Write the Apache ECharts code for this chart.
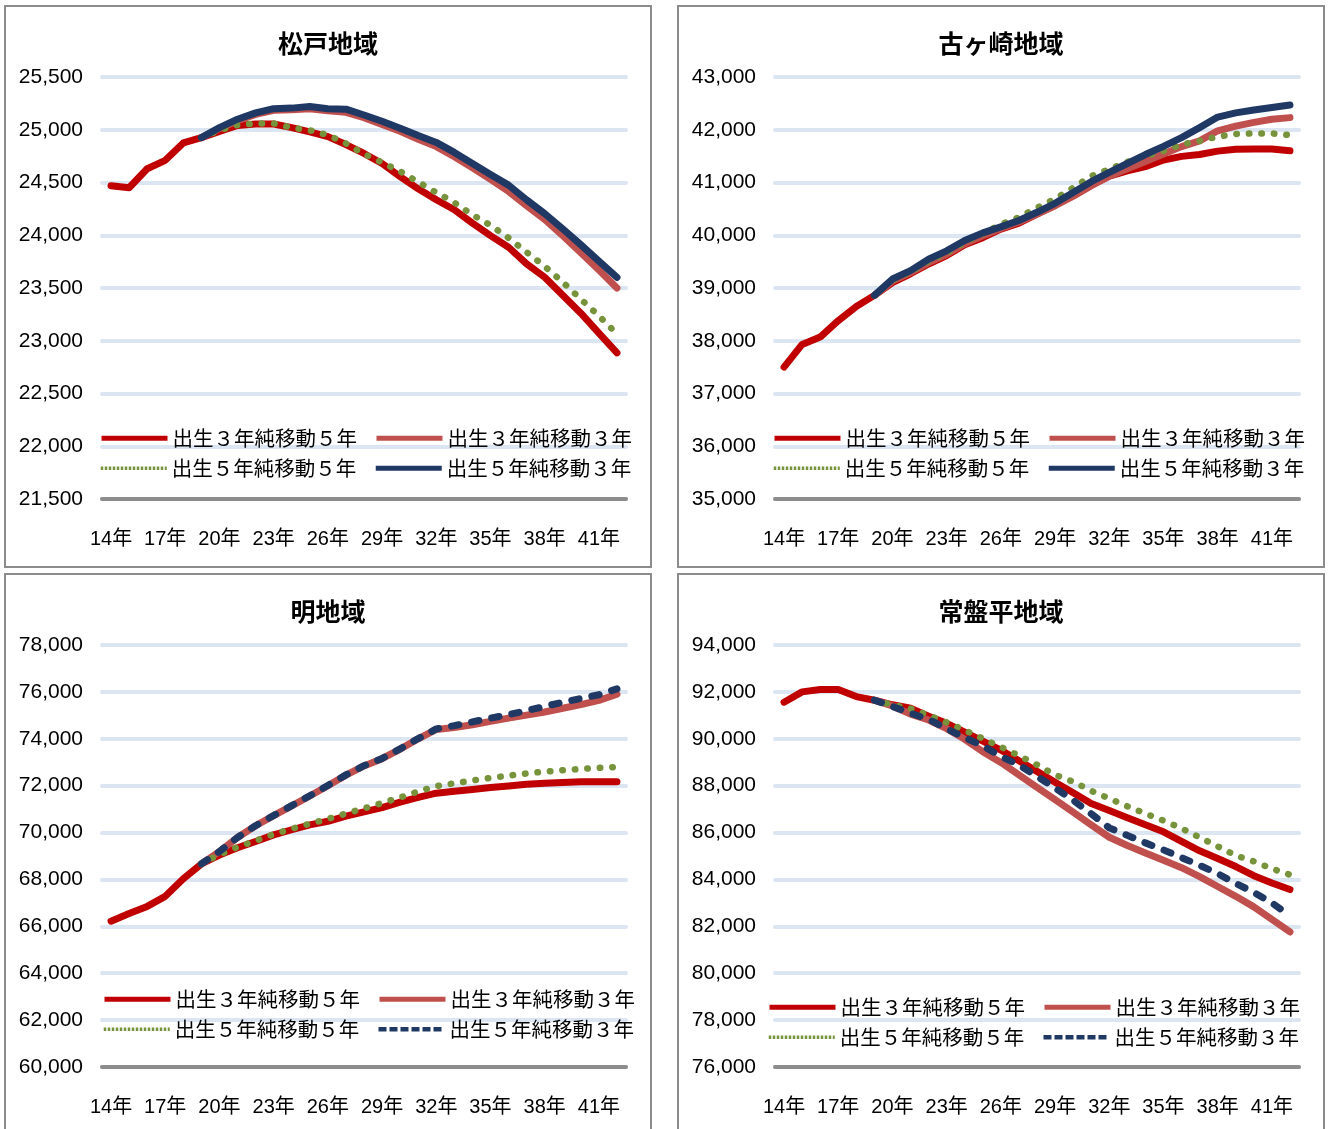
<!DOCTYPE html>
<html lang="ja">
<head>
<meta charset="utf-8">
<title>地域別将来人口推計</title>
<script src="https://cdn.jsdelivr.net/npm/echarts@6/dist/echarts.min.js"></script>
<style>
  html, body { margin: 0; padding: 0; background: #fff; overflow: hidden; }
  .panel {
    position: absolute;
    width: 648px;
    height: 563px;
    border: 2px solid #8c8c8c;
    box-sizing: border-box;
    background: #fff;
  }
  #p1 { left: 4px; top: 5px; }
  #p2 { left: 677px; top: 5px; }
  #p3 { left: 4px; top: 573px; }
  #p4 { left: 677px; top: 573px; }
</style>
</head>
<body>
<div id="p1" class="panel"></div>
<div id="p2" class="panel"></div>
<div id="p3" class="panel"></div>
<div id="p4" class="panel"></div>

<script>
// 年次（14年〜42年）
const years = [14, 15, 16, 17, 18, 19, 20, 21, 22, 23, 24, 25, 26, 27, 28, 29, 30,
  31, 32, 33, 34, 35, 36, 37, 38, 39, 40, 41, 42];
const xLabels = years.map(y => y + '年');

const seriesNames = ['出生３年純移動５年', '出生３年純移動３年', '出生５年純移動５年', '出生５年純移動３年'];
const _ = null;

// 松戸地域
const matsudoB3M5 = [24470, 24450, 24630, 24710, 24875, 24925, 24985, 25040, 25055, 25055, 25020, 24980, 24935, 24860, 24775, 24680, 24555, 24440, 24337, 24242, 24115, 23996, 23886, 23729, 23602, 23431, 23261, 23072, 22885];
const matsudoB3M3 = [_, _, _, _, _, 24925, 25010, 25085, 25145, 25185, 25190, 25200, 25180, 25165, 25115, 25050, 24985, 24910, 24840, 24745, 24640, 24530, 24415, 24280, 24150, 23995, 23835, 23670, 23500];
const matsudoB5M5 = [_, _, _, _, _, 24925, 24995, 25045, 25060, 25060, 25020, 24995, 24950, 24870, 24770, 24690, 24605, 24505, 24405, 24310, 24195, 24095, 23975, 23840, 23705, 23555, 23395, 23235, 23065];
const matsudoB5M3 = [_, _, _, _, _, 24925, 25020, 25100, 25160, 25200, 25205, 25220, 25200, 25195, 25140, 25080, 25015, 24945, 24880, 24785, 24680, 24575, 24475, 24335, 24205, 24060, 23910, 23755, 23600];

// 古ヶ崎地域
const kogasakiB3M5 = [37500, 37930, 38070, 38380, 38650, 38860, 39100, 39270, 39455, 39615, 39820, 39955, 40115, 40230, 40400, 40570, 40745, 40945, 41120, 41220, 41300, 41425, 41495, 41530, 41595, 41630, 41635, 41635, 41600];
const kogasakiB3M3 = [_, _, _, _, _, 38860, 39130, 39290, 39480, 39640, 39840, 39990, 40130, 40250, 40400, 40560, 40740, 40940, 41120, 41260, 41400, 41540, 41680, 41790, 41980, 42070, 42140, 42200, 42230];
const kogasakiB5M5 = [_, _, _, _, _, 38860, 39150, 39310, 39510, 39670, 39870, 40030, 40210, 40340, 40520, 40690, 40900, 41120, 41250, 41390, 41500, 41600, 41720, 41790, 41870, 41920, 41930, 41930, 41900];
const kogasakiB5M3 = [_, _, _, _, _, 38860, 39170, 39330, 39545, 39705, 39900, 40045, 40160, 40280, 40435, 40605, 40810, 41015, 41190, 41360, 41530, 41685, 41850, 42040, 42240, 42320, 42375, 42420, 42470];

// 明地域
const akiraB3M5 = [66220, 66550, 66850, 67280, 68030, 68660, 69040, 69350, 69620, 69900, 70120, 70330, 70480, 70700, 70880, 71060, 71300, 71500, 71680, 71760, 71840, 71920, 71990, 72060, 72100, 72130, 72170, 72170, 72170];
const akiraB3M3 = [_, _, _, _, _, 68660, 69190, 69790, 70290, 70720, 71140, 71560, 72000, 72450, 72840, 73150, 73560, 74000, 74400, 74480, 74600, 74740, 74880, 75010, 75140, 75300, 75460, 75640, 75900];
const akiraB5M5 = [_, _, _, _, _, 68660, 69060, 69380, 69650, 69930, 70160, 70380, 70580, 70810, 71030, 71260, 71500, 71750, 71980, 72100, 72220, 72330, 72430, 72520, 72600, 72660, 72710, 72760, 72800];
const akiraB5M3 = [_, _, _, _, _, 68660, 69190, 69790, 70290, 70730, 71150, 71570, 72010, 72460, 72850, 73160, 73570, 74010, 74420, 74560, 74720, 74880, 75030, 75200, 75380, 75560, 75720, 75880, 76130];

// 常盤平地域
const tokiwaB3M5 = [91560, 92000, 92100, 92100, 91800, 91645, 91450, 91300, 90960, 90660, 90280, 89900, 89520, 89060, 88610, 88150, 87700, 87240, 86940, 86630, 86330, 86030, 85620, 85220, 84890, 84550, 84160, 83850, 83570];
const tokiwaB3M3 = [_, _, _, _, _, 91645, 91400, 91050, 90800, 90430, 89980, 89450, 88990, 88460, 87930, 87400, 86870, 86330, 85800, 85450, 85130, 84820, 84500, 84120, 83700, 83280, 82830, 82300, 81760];
const tokiwaB5M5 = [_, _, _, _, _, 91645, 91450, 91290, 91000, 90700, 90360, 90010, 89650, 89280, 88890, 88460, 88170, 87780, 87450, 87120, 86810, 86510, 86180, 85790, 85410, 85020, 84770, 84460, 84200];
const tokiwaB5M3 = [_, _, _, _, _, 91645, 91380, 91090, 90830, 90430, 90050, 89700, 89250, 88880, 88400, 87900, 87380, 86800, 86200, 85880, 85560, 85260, 84930, 84600, 84250, 83830, 83450, 83000, 82450];

const colors = ['#c00000', '#c0504d', '#77933c', '#1f3864'];
const latinFont = "'Liberation Sans', Arial, 'Noto Sans CJK JP'";
const cjkFont = "'Noto Sans CJK JP', 'Noto Sans CJK SC', sans-serif";

// 系列ごとの線種（navyDashed: 出生5年純移動3年を破線にするか）
const seriesLine = (i, navyDashed) => {
  const base = { color: colors[i], width: 7, cap: 'round', join: 'round' };
  if (i === 2) return Object.assign(base, { width: 6.5, type: [0.5, 12] });  // 丸い点線
  if (i === 3 && navyDashed) return Object.assign(base, { type: [7.5, 13] });
  return base;
};

// 凡例用の線
const legendLine = (i, navyDashed) => {
  if (i === 2) return { color: colors[i], width: 3.5, type: [2.5, 1.5], cap: 'butt' };
  if (i === 3 && navyDashed) return { color: colors[i], width: 4.5, type: [8, 3], cap: 'butt' };
  return { color: colors[i], width: 5, type: 'solid', cap: 'butt' };
};

const makeLegend = (idx, left, top, navyDashed) => ({
  data: idx.map(i => ({ name: seriesNames[i], lineStyle: legendLine(i, navyDashed) })),
  left: left,
  top: top,
  orient: 'horizontal',
  itemWidth: 66,
  itemHeight: 20,
  itemGap: 17,
  itemTextGap: 12,
  itemStyle: { opacity: 0 },
  selectedMode: false,
  textStyle: { fontSize: 20.5, lineHeight: 20, color: '#000', fontFamily: cjkFont }
});

function buildOption(cfg) {
  return {
    animation: false,
    title: {
      text: cfg.title,
      left: 'center',
      top: 18,
      textStyle: { fontSize: 25, lineHeight: 26, fontWeight: 'bold', color: '#000', fontFamily: cjkFont }
    },
    legend: [
      makeLegend([0, 1], cfg.legendLeft, cfg.legendTop[0], cfg.navyDashed),
      makeLegend([2, 3], cfg.legendLeft, cfg.legendTop[1], cfg.navyDashed)
    ],
    grid: { left: 96, top: 70, width: 524, height: 422 },
    xAxis: {
      type: 'category',
      data: xLabels,
      boundaryGap: true,
      axisLine: { lineStyle: { color: '#8c8c8c', width: 4, cap: 'round' } },
      axisTick: { show: false },
      axisLabel: { interval: 2, margin: 30, fontSize: 20, color: '#000', fontFamily: latinFont }
    },
    yAxis: {
      type: 'value',
      min: cfg.yMin,
      max: cfg.yMax,
      interval: cfg.yStep,
      axisLine: { show: false },
      axisTick: { show: false },
      axisLabel: {
        margin: 19,
        fontSize: 21,
        color: '#000',
        fontFamily: latinFont,
        formatter: v => v.toLocaleString('en-US')
      },
      splitLine: { lineStyle: { color: '#dce6f2', width: 4, cap: 'round' } }
    },
    series: cfg.data.map((d, i) => ({
      name: seriesNames[i],
      type: 'line',
      data: d,
      symbol: 'none',
      smooth: false,
      lineStyle: seriesLine(i, cfg.navyDashed),
      emphasis: { disabled: true }
    }))
  };
}

const panels = [
  { id: 'p1', title: '松戸地域', yMin: 21500, yMax: 25500, yStep: 500,
    data: [matsudoB3M5, matsudoB3M3, matsudoB5M5, matsudoB5M3],
    legendLeft: 88, legendTop: [416, 446], navyDashed: false },
  { id: 'p2', title: '古ヶ崎地域', yMin: 35000, yMax: 43000, yStep: 1000,
    data: [kogasakiB3M5, kogasakiB3M3, kogasakiB5M5, kogasakiB5M3],
    legendLeft: 88, legendTop: [416, 446], navyDashed: false },
  { id: 'p3', title: '明地域', yMin: 60000, yMax: 78000, yStep: 2000,
    data: [akiraB3M5, akiraB3M3, akiraB5M5, akiraB5M3],
    legendLeft: 91, legendTop: [409, 439], navyDashed: true },
  { id: 'p4', title: '常盤平地域', yMin: 76000, yMax: 94000, yStep: 2000,
    data: [tokiwaB3M5, tokiwaB3M3, tokiwaB5M5, tokiwaB5M3],
    legendLeft: 83, legendTop: [417, 447], navyDashed: true }
];

panels.forEach(p => {
  const chart = echarts.init(document.getElementById(p.id), null, { renderer: 'canvas' });
  chart.setOption(buildOption(p));
});
</script>
</body>
</html>
